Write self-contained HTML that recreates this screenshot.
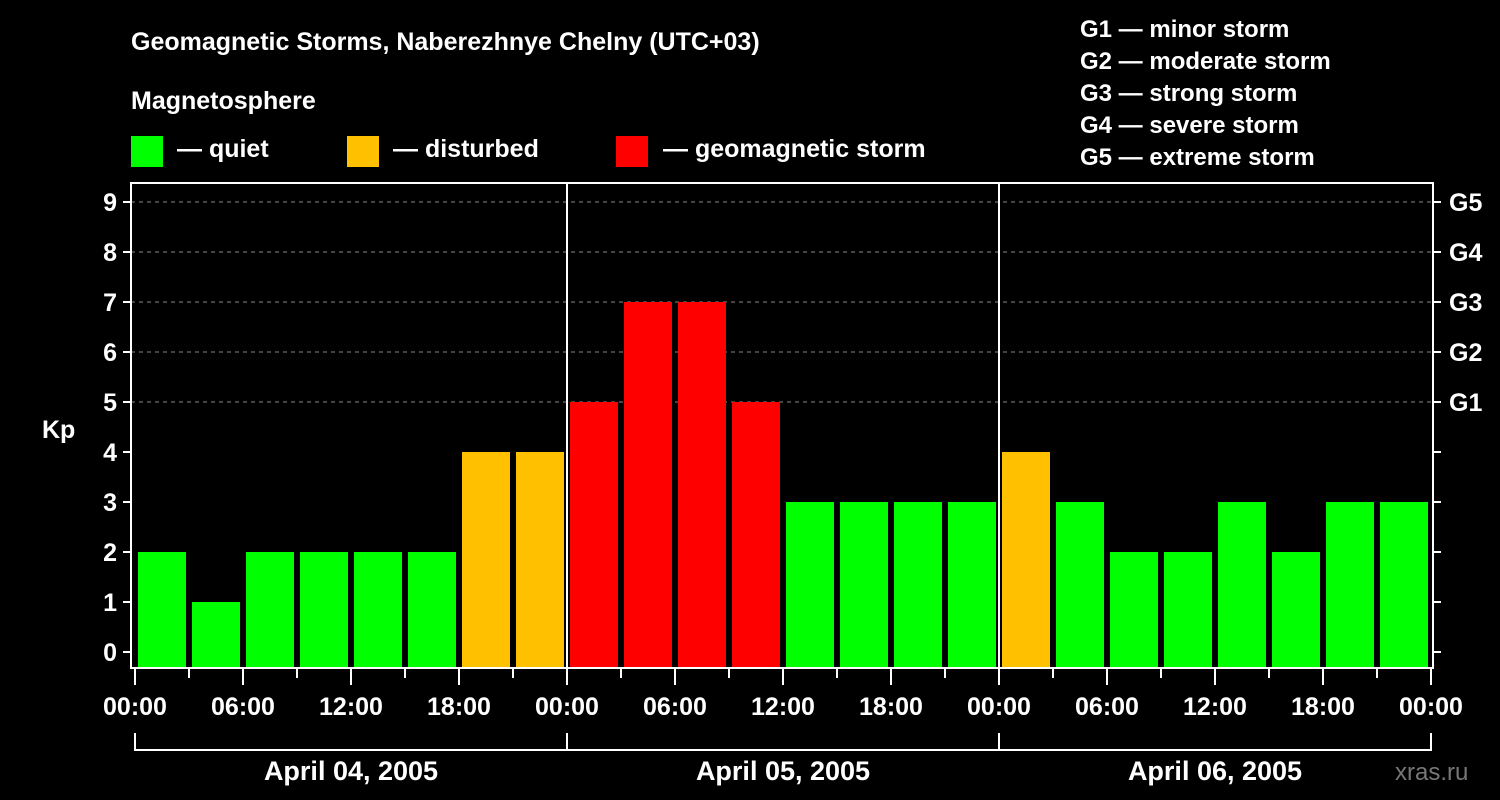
<!DOCTYPE html>
<html><head><meta charset="utf-8"><style>
html,body{margin:0;padding:0;background:#000;}
svg{display:block;font-family:"Liberation Sans",Arial,sans-serif;font-weight:bold;}
</style></head><body>
<svg id="chart" width="1500" height="800" viewBox="0 0 1500 800">
<rect x="0" y="0" width="1500" height="800" fill="#000"/>
<text x="131" y="50" fill="#fff" font-size="25">Geomagnetic Storms, Naberezhnye Chelny (UTC+03)</text>
<text x="131" y="109" fill="#fff" font-size="25">Magnetosphere</text>
<g><rect x="131" y="136" width="32" height="31" fill="#00ff00"/><text x="177" y="157" fill="#fff" font-size="25">— quiet</text></g>
<g><rect x="347" y="136" width="32" height="31" fill="#ffc000"/><text x="393" y="157" fill="#fff" font-size="25">— disturbed</text></g>
<g><rect x="616" y="136" width="32" height="31" fill="#ff0000"/><text x="663" y="157" fill="#fff" font-size="25">— geomagnetic storm</text></g>
<g fill="#fff" font-size="24">
<text x="1080" y="37">G1 — minor storm</text>
<text x="1080" y="69">G2 — moderate storm</text>
<text x="1080" y="101">G3 — strong storm</text>
<text x="1080" y="133">G4 — severe storm</text>
<text x="1080" y="165">G5 — extreme storm</text>
</g>
<text x="42" y="438" fill="#fff" font-size="25">Kp</text>
<g id="grid"></g><g id="bars"></g><g id="axes"></g>
<text x="1395" y="780" fill="#777" font-size="24" font-weight="normal">xras.ru</text>
</svg>
<script>
const kpValues=[2,1,2,2,2,2,4,4,5,7,7,5,3,3,3,3,4,3,2,2,3,2,3,3];
const dayLabels=["April 04, 2005","April 05, 2005","April 06, 2005"];
const hourLabels=["00:00","06:00","12:00","18:00"];
const kpTicks=[0,1,2,3,4,5,6,7,8,9];
const gLabels=["G1","G2","G3","G4","G5"];
const NS="http://www.w3.org/2000/svg";
const X0=135,SLOT=54,LEFT=131,RIGHT=1433,TOP=183,BOT=668;
const xs=i=>X0+i*SLOT;
const ys=v=>652-50*v;
function mk(tag,attrs,parent,text){const e=document.createElementNS(NS,tag);for(const k in attrs)e.setAttribute(k,attrs[k]);if(text!==undefined)e.textContent=text;parent.appendChild(e);return e;}
const grid=document.getElementById('grid'),bars=document.getElementById('bars'),axes=document.getElementById('axes');
kpTicks.forEach(v=>{
 if(v>=5){const l=mk('line',{x1:LEFT,x2:RIGHT,y1:ys(v),y2:ys(v),stroke:'#888','stroke-dasharray':'4,4','stroke-width':1},grid);
 
 }
 const t=mk('line',{x1:123,x2:LEFT,y1:ys(v),y2:ys(v),stroke:'#fff','stroke-width':2},axes);
 
 
 const t2=mk('line',{x1:RIGHT,x2:1441,y1:ys(v),y2:ys(v),stroke:'#fff','stroke-width':2},axes);
 
 
 const lb=mk('text',{x:117,y:ys(v)+9,fill:'#fff','font-size':25,'text-anchor':'end'},axes,String(v));
 
 
});
gLabels.forEach((g,i)=>{
 const lb=mk('text',{x:1449,y:ys(5+i)+9,fill:'#fff','font-size':25},axes,g);
 
 
});
kpValues.forEach((v,i)=>{
 const c=v>=5?'#ff0000':(v>=4?'#ffc000':'#00ff00');
 const r=mk('rect',{x:xs(i)+3,y:ys(v),width:48,height:BOT-ys(v),fill:c},bars);
 
 
});
const frame=mk('rect',{x:LEFT,y:TOP,width:RIGHT-LEFT,height:BOT-TOP,fill:'none',stroke:'#fff','stroke-width':2},axes);


for(let d=1;d<dayLabels.length;d++){
 const l=mk('line',{x1:xs(d*8),x2:xs(d*8),y1:TOP,y2:BOT,stroke:'#fff','stroke-width':2},axes);
 
 
}
for(let i=0;i<=kpValues.length;i++){
 const major=i%2===0;
 const t=mk('line',{x1:xs(i),x2:xs(i),y1:BOT,y2:major?685:678,stroke:'#fff','stroke-width':2},axes);
 
 
 if(major){const lb=mk('text',{x:xs(i),y:715,fill:'#fff','font-size':25,'text-anchor':'middle'},axes,hourLabels[(i/2)%4]);
 
 }
}
dayLabels.forEach((d,k)=>{
 const x1=xs(k*8),x2=xs(k*8+8);
 const p=mk('path',{d:`M${x1} 733V750H${x2}`+(k===dayLabels.length-1?`V733`:''),stroke:'#fff','stroke-width':2,fill:'none'},axes);
 
 
 const lb=mk('text',{x:(x1+x2)/2,y:780,fill:'#fff','font-size':27,'text-anchor':'middle'},axes,d);
 
 
});
</script>
</body></html>
